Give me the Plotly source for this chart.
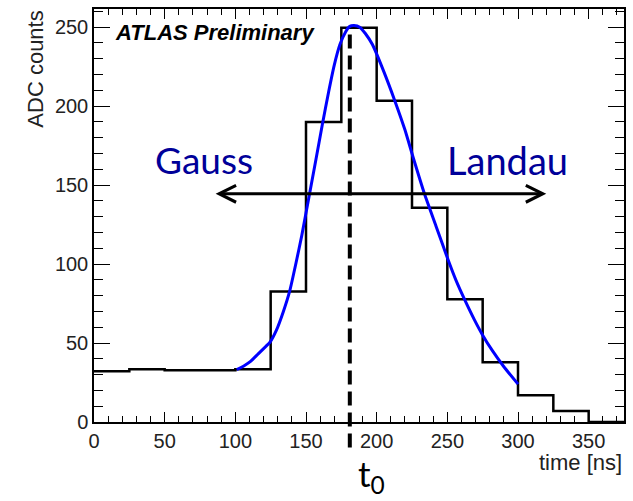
import plotly.graph_objects as go

# Pulse histogram: 25 ns bins from 0 to 375 ns
bin_edges = [0, 25, 50, 75, 100, 125, 150, 175, 200, 225, 250, 275, 300, 325, 350, 375]
adc_counts = [32.2, 33.4, 32.8, 32.8, 33.4, 82.6, 190, 249.6, 203.4, 135.6, 77.8, 37.9, 17, 7, 0]

# Fitted pulse shape (Gauss rise, Landau tail)
fit_time = [101, 106, 111, 116, 120, 124.5, 129, 134, 138.5, 143, 147, 152, 157, 161.5, 166, 170, 174,
            178, 181, 184, 188, 192, 197, 205, 213, 220, 226, 234, 242, 250, 256, 262.5, 269, 275,
            282, 290, 300]
fit_adc = [33.2, 35.5, 38.5, 43, 46.5, 50.5, 58, 70, 83, 101, 118, 142, 166, 188, 209, 226, 239,
           247, 250.5, 251, 250, 246, 239, 222, 203, 185, 167, 144, 124, 104, 90, 77, 65, 55,
           45, 35, 24]

t0 = 181            # peak time marker
arrow_y = 144.5     # level of the Gauss/Landau arrow
arrow_x = (85, 320)

fig = go.Figure()

fig.add_trace(go.Scatter(
    x=bin_edges, y=adc_counts + [adc_counts[-1]],
    mode="lines", line=dict(color="black", width=2.5, shape="hv"),
    showlegend=False, hoverinfo="skip",
))

fig.add_trace(go.Scatter(
    x=fit_time, y=fit_adc, mode="lines",
    line=dict(color="#0000ff", width=3, shape="spline", smoothing=0.5),
    showlegend=False, hoverinfo="skip",
))

# t0 dashed marker, extending below the frame
fig.add_shape(type="line", xref="x", yref="paper", x0=t0, x1=t0, y0=-0.062, y1=0.952,
              line=dict(color="black", width=4, dash="14px,7px"), layer="above")

# double-headed arrow
fig.add_annotation(x=arrow_x[1], y=arrow_y, ax=arrow_x[0], ay=arrow_y,
                   xref="x", yref="y", axref="x", ayref="y", text="",
                   showarrow=True, arrowhead=5, startarrowhead=5, arrowside="end+start",
                   arrowsize=1.1, startarrowsize=1.1, arrowwidth=3, arrowcolor="black")

fig.add_annotation(x=77.5, y=166, xref="x", yref="y", text="Gauss", showarrow=False,
                   font=dict(family="Lato, Open Sans, sans-serif", size=37, color="#000099"),
                   xanchor="center", yanchor="middle")
fig.add_annotation(x=292.4, y=166, xref="x", yref="y", text="Landau", showarrow=False,
                   font=dict(family="Lato, Open Sans, sans-serif", size=38, color="#000099"),
                   xanchor="center", yanchor="middle")
fig.add_annotation(x=t0 + 15, y=-0.13, xref="x", yref="paper", text="t<sub>0</sub>",
                   showarrow=False, xanchor="center", yanchor="middle",
                   font=dict(family="Lato, Open Sans, sans-serif", size=35, color="black"))

fig.add_annotation(x=0.035, y=0.943, xref="paper", yref="paper",
                   text="<b><i>ATLAS Preliminary</i></b>", showarrow=False,
                   xanchor="left", yanchor="middle",
                   font=dict(family="Liberation Sans, Arial, sans-serif", size=22, color="black"))

title_font = dict(family="Liberation Sans, Arial, sans-serif", size=22, color="#222")
fig.add_annotation(x=-0.111, y=1.0, xref="paper", yref="paper", text="ADC counts",
                   textangle=-90, showarrow=False, xanchor="center", yanchor="top",
                   font=title_font)
fig.add_annotation(x=1.0, y=-0.097, xref="paper", yref="paper", text="time [ns]",
                   showarrow=False, xanchor="right", yanchor="middle", font=title_font)

tick_font = dict(family="Liberation Sans, Arial, sans-serif", size=20, color="#222")
fig.update_xaxes(range=[0, 375], tickvals=[0, 50, 100, 150, 200, 250, 300, 350],
                 ticks="inside", ticklen=10, tickwidth=1.3, tickcolor="black",
                 minor=dict(ticks="inside", ticklen=6, dtick=10, tick0=0, tickcolor="black", tickwidth=1.3),
                 showline=True, linecolor="black", linewidth=1.5, mirror="allticks",
                 showgrid=False, zeroline=False, tickfont=tick_font)
fig.update_yaxes(range=[0, 261.5], tickvals=[0, 50, 100, 150, 200, 250],
                 ticks="inside", ticklen=16, tickwidth=1.3, tickcolor="black",
                 minor=dict(ticks="inside", ticklen=9, dtick=10, tick0=0, tickcolor="black", tickwidth=1.3),
                 showline=True, linecolor="black", linewidth=1.5, mirror="allticks",
                 showgrid=False, zeroline=False, tickfont=tick_font)

fig.update_layout(width=633, height=501, margin=dict(l=94, r=7, t=7, b=79),
                  paper_bgcolor="white", plot_bgcolor="white")

fig.write_html("out.html")
